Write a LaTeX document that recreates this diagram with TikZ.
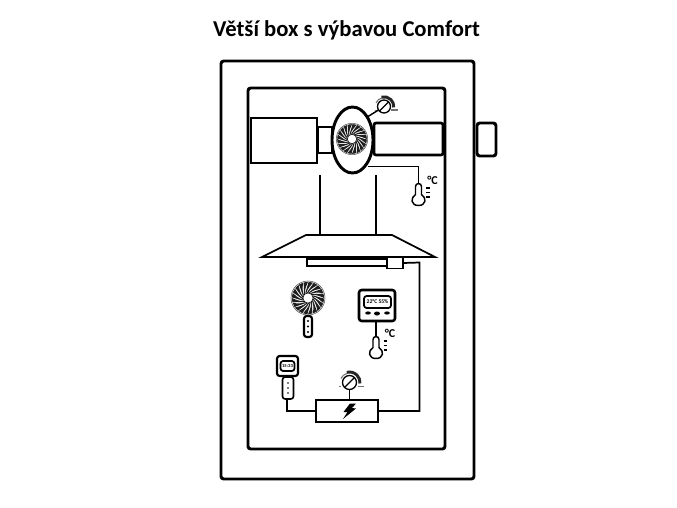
\documentclass[tikz,border=0pt]{standalone}
\usepackage{fontspec}
\setmainfont{Carlito}
\usetikzlibrary{calc}
\tikzset{
 x=0.75pt,y=-0.75pt,
 thick box/.style={draw=black,line width=#1,fill=white,inner sep=0pt,outer sep=0pt},
 thick box/.default=2pt,
 wire/.style={draw=black,line width=1.3pt},
 thin wire/.style={draw=black,line width=1.1pt},
 label text/.style={inner sep=0pt,font=\bfseries},
}
\newcommand{\fanblades}[2]{% centre, radius
 \begin{scope}[shift={#1}]
  \draw[line width=0.4pt,draw=black!70,fill=white] (0,0) circle (#2);
  \foreach \a in {0,18,...,342}{
   \fill[black!88,rotate=\a] (0:0.3*#2) .. controls (12:0.55*#2) and (32:0.8*#2) .. (36:0.95*#2)
     -- (20:0.95*#2) .. controls (18:0.75*#2) and (4:0.5*#2) .. (-14:0.3*#2) -- cycle;
  }
  \fill[white] (0,0) circle (0.3*#2);
  \draw[line width=0.4pt] (0,0) circle (0.3*#2);
 \end{scope}}
\newcommand{\thermo}[1]{% top centre of stem
 \begin{scope}[shift={#1}]
  \draw[line width=1.1pt,fill=white] (-3,1.5) arc (-180:0:3) -- (3,9.5)
    .. controls (8.5,13) and (7.5,20.5) .. (0,20.5) .. controls (-7.5,20.5) and (-8.5,13) .. (-3,9.5) -- cycle;
  \foreach \yy in {3,7.5,12}{\draw[line width=1.3pt] (7.5,\yy) -- (11,\yy);}
  \node[inner sep=0pt,font=\fontsize{9}{10}\selectfont\bfseries] at (14,-5) {°C};
 \end{scope}}
\newcommand{\dial}[2]{% centre, radius
 \begin{scope}[shift={#1}]
  \draw[line width=2.2pt,black!85] (-105:#2*1.5) arc (-105:5:#2*1.5);
  \draw[line width=0.8pt,black!55] (-105:#2*1.35) arc (-105:-155:#2*1.35);
  \draw[line width=1pt,fill=white] (0,0) circle (#2);
  \draw[line width=1pt] (135:#2) -- (-45:#2);
  \draw[line width=0.9pt,black!55] (#2*1.15,#2*0.55) -- (#2*2.1,#2*0.55);
  \draw[line width=0.7pt,black!55] (-#2*1.45,#2*0.55) -- (-#2*1.15,#2*0.55);
 \end{scope}}
\begin{document}
\begin{tikzpicture}[x=0.75pt,y=-0.75pt]
\useasboundingbox[fill=white] (0,0) rectangle (677,507);
\node[label text,font=\fontsize{17}{20}\selectfont\bfseries] (title) at (346.5,30) {Větší box s výbavou Comfort};
% outer
\node[thick box=2.2pt,rounded corners=2pt,minimum width=253*0.75pt,minimum height=418*0.75pt] (outer) at (347.5,270) {};
\node[thick box=2.2pt,rounded corners=2pt,minimum width=19*0.75pt,minimum height=33*0.75pt] (knob) at (486.5,139.5) {};
\node[thick box=2.2pt,rounded corners=2pt,minimum width=197*0.75pt,minimum height=361*0.75pt] (inner) at (346.5,268.5) {};
% duct
\node[thick box=2pt,minimum width=66*0.75pt,minimum height=45*0.75pt] (filter) at (284,140.5) {};
\node[thick box=1.6pt,minimum width=15*0.75pt,minimum height=26*0.75pt] (neck) at (325,140) {};
\node[thick box=2pt,rounded corners=1.5pt,minimum width=69*0.75pt,minimum height=32*0.75pt] (exhaust) at (408.5,139) {};
\draw[line width=1.9pt,draw=black] (exhaust.north east) -- (exhaust.south east);
\coordinate (fanc) at (352.5,140);
\draw[line width=2.2pt,fill=white] (fanc) ellipse (20.5 and 33);
\fanblades{(352,139)}{15.7}
% dial top
\coordinate (dialtop) at (384,106.5);
\dial{(dialtop)}{6.5}
\draw[thin wire] ($(fanc)+(15.5,-23.5)$) -- ($(dialtop)+(-5.5,3.5)$);
% sensor 1
\coordinate (t1) at (418.5,185);
\draw[thin wire] ($(fanc)+(15,26.3)$) -- (418.5,166.3) -- (t1);
\thermo{(t1)}
% hood
\draw[line width=0.9pt] (320,175) -- (320,235);
\draw[line width=0.9pt] (376,175) -- (376,235);
\draw[line width=1.3pt,fill=white,line join=miter] (306,235) -- (392,235) -- (435,257) -- (262,257) -- cycle;
\node[thick box=1.4pt,minimum width=80*0.75pt,minimum height=7*0.75pt,anchor=west] (lamp) at (307,262.5) {};
\node[thick box=1.4pt,minimum width=16*0.75pt,minimum height=11*0.75pt] (sensor) at (395,263) {};
% stand fan
\fanblades{(308,298)}{17}
\node[thick box=1.6pt,rounded corners=2pt,minimum width=8*0.75pt,minimum height=21*0.75pt] (handle) at (308,326.5) {};
\foreach \yy in {321,326.5,332}{\fill (308,\yy) circle (1.1);}
% thermostat display
\node[thick box=1.9pt,rounded corners=2pt,minimum width=36*0.75pt,minimum height=31*0.75pt] (hygro) at (377,305.5) {};
\node[thick box=1.3pt,rounded corners=2pt,minimum width=27*0.75pt,minimum height=12*0.75pt,font=\fontsize{4.2}{5}\selectfont\bfseries] (hygrod) at (377.5,302) {22°C 55\%};
\fill (368,313) ellipse (2.8 and 1.6);
\fill (377,313.5) ellipse (3 and 2);
\fill (387,313) ellipse (2.8 and 1.6);
\coordinate (t2) at (376,338);
\draw[thin wire] (hygro.south-|t2) -- (t2);
\thermo{(t2)}
% clock
\node[thick box=1.6pt,rounded corners=2pt,minimum width=21*0.75pt,minimum height=20*0.75pt] (clock) at (287.5,366) {};
\node[thick box=1.3pt,rounded corners=2pt,minimum width=14*0.75pt,minimum height=10*0.75pt,font=\fontsize{3.5}{4}\selectfont\bfseries] (clockd) at (287.5,366) {15:33};
\node[thick box=1.2pt,rounded corners=2pt,minimum width=11*0.75pt,minimum height=22*0.75pt] (remote) at (288,388) {};
\foreach \yy in {383,388,393}{\fill (288,\yy) circle (0.8);}
% power
\node[thick box=2pt,minimum width=62*0.75pt,minimum height=22*0.75pt] (power) at (347,411) {};
\fill (350,403.5) -- (356,403.5) -- (352,408) -- (356,408.5) -- (343,419) -- (347.5,412) -- (343.5,412) -- cycle;
\coordinate (dialb) at (349.5,382.5);
\dial{(dialb)}{7}
\draw[thin wire] (dialb)++(0,7) -- (power.north-|dialb);
\draw[wire] (remote.south-|287,0) -- (287,411) -- (power.west);
\draw[wire] (power.east) -- (419.5,411) -- (419.5,262.5) -- (sensor.east);
\end{tikzpicture}
\end{document}
